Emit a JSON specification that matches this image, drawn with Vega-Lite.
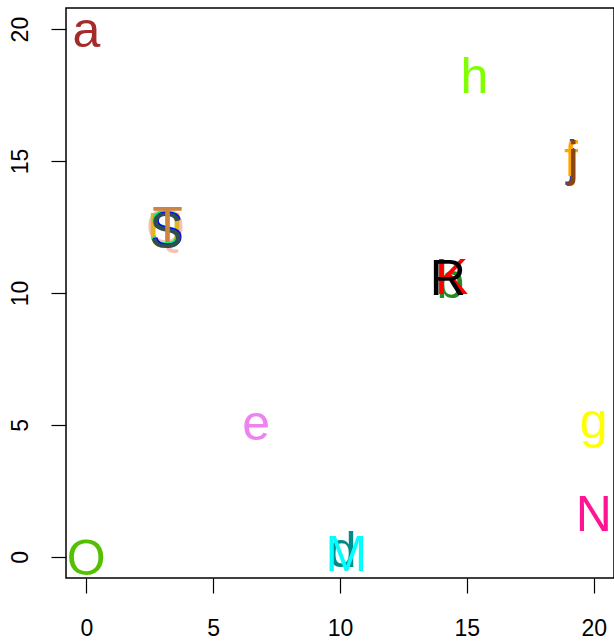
{
  "$schema": "https://vega.github.io/schema/vega-lite/v6.json",
  "width": 548,
  "height": 570,
  "autosize": {"type": "none"},
  "padding": {"left": 66, "top": 8, "right": 0, "bottom": 66},
  "background": "white",
  "config": {"view": {"stroke": "black", "strokeWidth": 1.5}},
  "data": {"values": [
    {"key": "a", "label": "a", "x": 0, "y": 20},
    {"key": "h", "label": "h", "x": 15.3, "y": 18.25},
    {"key": "j_i", "label": "j", "x": 19.15, "y": 15.15},
    {"key": "j_f", "label": "f", "x": 19.1, "y": 15.1},
    {"key": "j", "label": "j", "x": 19.2, "y": 15.1},
    {"key": "Q", "label": "Q", "x": 3.12, "y": 12.55},
    {"key": "U", "label": "U", "x": 3.1, "y": 12.4},
    {"key": "S_g", "label": "S", "x": 3.12, "y": 12.45},
    {"key": "S_b", "label": "S", "x": 3.19, "y": 12.43},
    {"key": "S", "label": "S", "x": 3.15, "y": 12.4},
    {"key": "T", "label": "T", "x": 3.2, "y": 12.6},
    {"key": "b", "label": "b", "x": 14.35, "y": 10.5},
    {"key": "K", "label": "K", "x": 14.4, "y": 10.65},
    {"key": "R", "label": "R", "x": 14.25, "y": 10.6},
    {"key": "e", "label": "e", "x": 6.7, "y": 5.1},
    {"key": "g", "label": "g", "x": 20, "y": 5.2},
    {"key": "N", "label": "N", "x": 20, "y": 1.65},
    {"key": "O", "label": "O", "x": 0, "y": 0},
    {"key": "d", "label": "d", "x": 10.1, "y": 0.3},
    {"key": "M", "label": "M", "x": 10.25, "y": 0.15}
  ]},
  "transform": [{"window": [{"op": "row_number", "as": "idx"}]}],
  "mark": {"type": "text", "font": "Liberation Sans", "fontSize": 50, "baseline": "alphabetic", "align": "center", "dy": 18},
  "encoding": {
    "x": {"field": "x", "type": "quantitative",
      "scale": {"domain": [-0.8, 20.8], "nice": false, "zero": false},
      "axis": {"title": null, "values": [0, 5, 10, 15, 20], "domain": false, "grid": false,
        "tickSize": 15, "tickColor": "black", "tickWidth": 1.2,
        "labelFont": "Liberation Sans", "labelFontSize": 23, "labelColor": "black", "labelPadding": 24}},
    "y": {"field": "y", "type": "quantitative",
      "scale": {"domain": [-0.8, 20.8], "nice": false, "zero": false},
      "axis": {"title": null, "values": [0, 5, 10, 15, 20], "domain": false, "grid": false,
        "tickSize": 15, "tickColor": "black", "tickWidth": 1.2,
        "labelFont": "Liberation Sans", "labelFontSize": 23, "labelColor": "black", "labelPadding": 19,
        "labelAngle": 270, "labelAlign": "center", "labelBaseline": "bottom"}},
    "text": {"field": "label"},
    "order": {"field": "idx", "type": "quantitative", "sort": "ascending"},
    "color": {"field": "key", "type": "nominal", "legend": null,
      "scale": {
        "domain": ["a", "h", "j_i", "j_f", "j", "Q", "U", "S_g", "S_b", "S", "T", "b", "K", "R", "e", "g", "N", "O", "d", "M"],
        "range": ["#A52A2A", "#7FFF00", "#483D8B", "#FFA500", "#8B4513", "#F4C2B4", "#E6B422", "#00EE76", "#0000FF", "#2F4F4F", "#CD853F", "#228B22", "#FF0000", "#000000", "#EE82EE", "#FFFF00", "#FF1493", "#55C000", "#008B8B", "#00FFFF"]
      }}
  }
}
